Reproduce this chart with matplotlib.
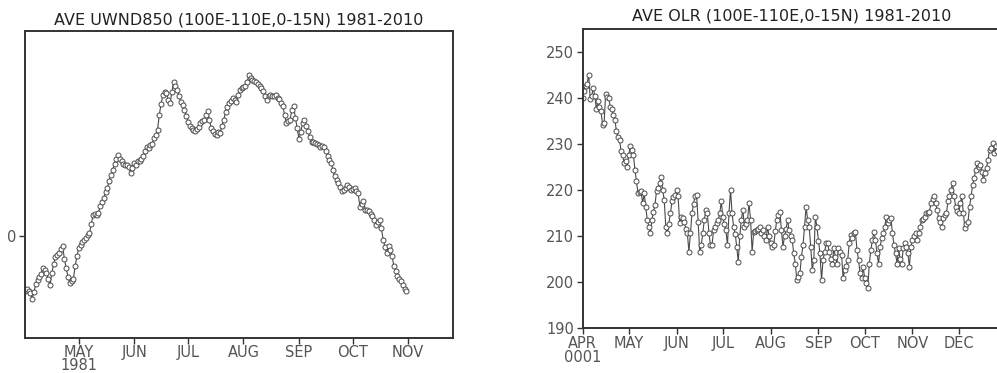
"""
plot.py

Two GrADS-style daily time series panels:
left  - 850 hPa zonal wind, area mean 100E-110E, 0-15N
right - OLR, same box, climatology 1981-2010
"""

import numpy as np
import pandas as pd

import matplotlib
matplotlib.use("Agg")
import matplotlib.pyplot as plt


# ---- data (one value per day) ----

UWND_START = "1981-04-01"
UWND = [
    -1.09, -1.04, -1.08, -1.12, -1.23, -1.10, -0.95, -0.86, -0.80, -0.74,
    -0.63, -0.68, -0.73, -0.85, -0.96, -0.73, -0.55, -0.42, -0.38, -0.33,
    -0.27, -0.21, -0.45, -0.64, -0.80, -0.92, -0.88, -0.85, -0.60, -0.40,
    -0.25, -0.18, -0.13, -0.08, -0.05, 0.01, 0.05, 0.22, 0.40, 0.43,
    0.41, 0.45, 0.58, 0.66, 0.74, 0.85, 0.93, 1.07, 1.18, 1.29,
    1.40, 1.50, 1.58, 1.50, 1.45, 1.40, 1.38, 1.39, 1.35, 1.22,
    1.33, 1.42, 1.38, 1.45, 1.45, 1.50, 1.56, 1.66, 1.74, 1.71,
    1.78, 1.80, 1.90, 1.96, 2.07, 2.36, 2.58, 2.75, 2.80, 2.78,
    2.66, 2.59, 2.80, 3.01, 2.92, 2.85, 2.72, 2.62, 2.55, 2.46,
    2.34, 2.23, 2.15, 2.10, 2.06, 2.04, 2.08, 2.12, 2.20, 2.25,
    2.27, 2.35, 2.43, 2.27, 2.10, 2.04, 1.99, 1.97, 2.02, 2.01,
    2.15, 2.26, 2.42, 2.52, 2.59, 2.63, 2.69, 2.66, 2.62, 2.75,
    2.85, 2.88, 2.90, 2.93, 3.00, 3.14, 3.08, 3.05, 3.02, 3.00,
    2.97, 2.93, 2.88, 2.82, 2.72, 2.66, 2.72, 2.75, 2.73, 2.72,
    2.74, 2.70, 2.68, 2.60, 2.53, 2.35, 2.20, 2.24, 2.27, 2.45,
    2.53, 2.30, 2.10, 1.88, 2.02, 2.20, 2.27, 2.15, 2.04, 1.92,
    1.84, 1.83, 1.81, 1.80, 1.77, 1.74, 1.75, 1.74, 1.65, 1.55,
    1.48, 1.42, 1.28, 1.16, 1.08, 1.03, 0.95, 0.87, 0.89, 0.94,
    1.00, 0.95, 0.90, 0.92, 0.93, 0.88, 0.83, 0.57, 0.62, 0.67,
    0.51, 0.50, 0.48, 0.43, 0.38, 0.30, 0.21, 0.26, 0.31, 0.15,
    -0.08, -0.22, -0.34, -0.21, -0.28, -0.40, -0.60, -0.70, -0.79, -0.84,
    -0.89, -0.97, -1.05, -1.09,
]
UWND_TICK_LABELS = ["MAY\n1981", "JUN", "JUL", "AUG", "SEP", "OCT", "NOV"]
UWND_YTICKS = [0]

# GrADS climatology year 0001 has the same month lengths as 2001
OLR_START = "2001-04-01"
OLR = [
    240.0, 241.5, 242.6, 243.0, 245.1, 239.7, 240.5, 242.2, 240.4, 237.5,
    239.3, 238.0, 237.1, 234.2, 234.6, 240.8, 240.2, 240.0, 238.0, 237.5,
    236.4, 235.3, 232.8, 231.5, 230.9, 228.5, 227.7, 225.9, 226.3, 225.1,
    227.7, 229.5, 228.6, 227.7, 224.4, 221.9, 219.3, 219.5, 219.7, 217.1,
    219.3, 216.4, 213.5, 212.0, 210.6, 213.5, 215.2, 216.8, 219.7, 220.5,
    221.5, 222.9, 220.0, 217.9, 212.0, 210.6, 212.7, 214.9, 217.5, 218.4,
    219.0, 220.0, 218.6, 212.8, 214.2, 214.0, 213.1, 211.5, 210.6, 206.6,
    210.6, 214.9, 217.0, 218.6, 218.9, 213.1, 206.6, 208.0, 210.6, 213.5,
    215.7, 214.9, 210.6, 208.0, 208.0, 211.3, 212.0, 212.8, 213.5, 214.9,
    217.5, 214.2, 212.5, 211.3, 208.0, 215.0, 220.0, 214.9, 212.0, 210.5,
    207.7, 204.4, 210.0, 213.5, 215.7, 212.0, 212.5, 213.5, 217.1, 213.5,
    206.6, 210.9, 211.0, 211.3, 211.5, 212.0, 210.6, 211.3, 210.0, 209.1,
    212.0, 209.9, 208.5, 207.7, 208.0, 211.0, 213.5, 214.5, 215.3, 211.3,
    207.7, 209.9, 211.5, 213.5, 211.3, 210.0, 209.1, 206.2, 204.0, 200.4,
    201.0, 201.9, 205.5, 208.0, 212.0, 216.4, 213.5, 212.0, 207.7, 202.6,
    204.8, 214.2, 212.0, 209.0, 206.2, 200.4, 204.8, 206.5, 208.4, 208.4,
    206.5, 205.1, 204.0, 207.3, 205.5, 204.0, 207.3, 206.5, 205.9, 200.8,
    202.6, 203.5, 204.8, 208.5, 210.2, 209.5, 210.6, 210.9, 207.0, 204.8,
    201.9, 200.8, 203.3, 200.8, 199.7, 198.6, 204.0, 207.0, 209.1, 210.9,
    209.1, 206.2, 204.0, 207.7, 209.5, 210.6, 212.0, 214.2, 212.8, 213.5,
    213.9, 210.6, 208.0, 206.2, 204.0, 207.3, 205.0, 204.0, 207.3, 208.4,
    207.5, 206.2, 203.3, 207.7, 209.1, 210.0, 210.6, 209.1, 210.6, 212.0,
    213.5, 213.8, 214.2, 214.9, 215.0, 215.3, 217.1, 218.0, 218.6, 217.1,
    215.6, 213.9, 213.0, 212.0, 213.9, 214.5, 214.9, 217.5, 218.6, 220.0,
    221.5, 218.6, 216.4, 215.5, 214.9, 217.1, 218.6, 214.9, 211.7, 212.5,
    213.1, 216.4, 218.6, 221.1, 222.6, 224.4, 225.9, 225.1, 225.5, 224.0,
    222.2, 223.7, 224.8, 226.6, 228.8, 229.1, 230.2, 228.0, 229.5, 228.5,
    229.8,
]
OLR_TICK_LABELS = ["APR\n0001", "MAY", "JUN", "JUL", "AUG", "SEP", "OCT", "NOV", "DEC"]
OLR_YTICKS = [190, 200, 210, 220, 230, 240, 250]

LINE_COLOR = "#4a4a4a"
TEXT_COLOR = "#555555"
W, H = 997, 373


def month_ticks(start, first, count):
    """day offsets (from start) of the first day of `count` months"""
    start = pd.Timestamp(start)
    months = pd.date_range(first, periods=count, freq="MS")
    return [(m - start).days for m in months]


def style_axes(ax):
    for side in ax.spines.values():
        side.set_linewidth(1.4)
        side.set_color("#333333")
    ax.tick_params(direction="out", length=4, width=1.0, color="#333333",
                   labelsize=10.5, labelcolor=TEXT_COLOR, pad=2)


def draw_series(ax, values):
    days = np.arange(len(values))
    ax.plot(days, values, color=LINE_COLOR, lw=0.8, marker="o", ms=3.6,
            mfc="white", mec=LINE_COLOR, mew=0.7)


def main() -> None:
    fig = plt.figure(figsize=(W / 100, H / 100), dpi=100)
    fig.patch.set_facecolor("white")

    # left panel: U850
    ax1 = fig.add_axes([25 / W, (H - 338) / H, 428 / W, 307 / H])
    draw_series(ax1, UWND)
    ax1.set_xlim(0, 239)
    ax1.set_ylim(-2, 4)
    ax1.set_xticks(month_ticks(UWND_START, "1981-05-01", len(UWND_TICK_LABELS)))
    ax1.set_xticklabels(UWND_TICK_LABELS, linespacing=0.82)
    ax1.set_yticks(UWND_YTICKS)
    ax1.set_yticklabels([str(v) for v in UWND_YTICKS])
    style_axes(ax1)
    ax1.tick_params(axis="x", pad=1)
    ax1.set_title("AVE UWND850 (100E-110E,0-15N) 1981-2010",
                  fontsize=11.5, color="#222222", pad=5)

    # right panel: OLR, runs past the right edge of the picture
    px_per_day = 1.542
    span = 300
    ax2 = fig.add_axes([582.5 / W, (H - 328) / H, span * px_per_day / W, 299 / H])
    draw_series(ax2, OLR)
    ax2.set_xlim(0, span)
    ax2.set_ylim(190, 255)
    ax2.set_xticks(month_ticks(OLR_START, "2001-04-01", len(OLR_TICK_LABELS)))
    ax2.set_xticklabels(OLR_TICK_LABELS, linespacing=0.9)
    ax2.set_yticks(OLR_YTICKS)
    style_axes(ax2)
    # title centred on the visible part of the panel
    ax2.text((792 - 582.5) / (span * px_per_day), 1.02,
             "AVE OLR (100E-110E,0-15N) 1981-2010",
             transform=ax2.transAxes, ha="center", va="bottom",
             fontsize=11.5, color="#222222")

    fig.savefig("out.png", dpi=100, facecolor="white")
    plt.close(fig)


if __name__ == "__main__":
    main()
